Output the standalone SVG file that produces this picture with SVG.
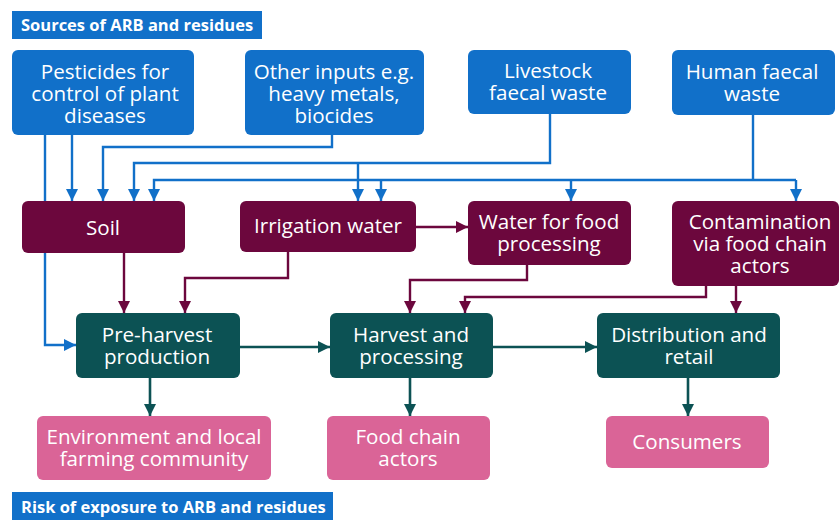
<svg xmlns="http://www.w3.org/2000/svg" width="839" height="520" viewBox="0 0 839 520">
<style>
.hdr{fill:#1170c9}
.src{fill:#1170c9}
.mid{fill:#6c073d}
.stg{fill:#0c5254}
.risk{fill:#da6497}
text{font-family:"Open Sans","Noto Sans","Liberation Sans",sans-serif;fill:#fff;text-anchor:middle}
.t{font-size:20.6px}
.h{font-size:16.5px;font-weight:bold;text-anchor:start}
.cb{fill:none;stroke:#1170c9;stroke-width:2.4;marker-end:url(#ab)}
.cm{fill:none;stroke:#6c073d;stroke-width:2.4;marker-end:url(#am)}
.ct{fill:none;stroke:#0c5254;stroke-width:2.6;marker-end:url(#at)}
.ln{fill:none;stroke:#1170c9;stroke-width:2.4}
</style>
<defs>
<marker id="ab" viewBox="0 0 10 10" refX="10" refY="5" markerWidth="12" markerHeight="12" markerUnits="userSpaceOnUse" orient="auto"><path d="M0,0 L10,5 L0,10 z" fill="#1170c9"/></marker>
<marker id="am" viewBox="0 0 10 10" refX="10" refY="5" markerWidth="12" markerHeight="12" markerUnits="userSpaceOnUse" orient="auto"><path d="M0,0 L10,5 L0,10 z" fill="#6c073d"/></marker>
<marker id="at" viewBox="0 0 10 10" refX="10" refY="5" markerWidth="12" markerHeight="12" markerUnits="userSpaceOnUse" orient="auto"><path d="M0,0 L10,5 L0,10 z" fill="#0c5254"/></marker>
</defs>
<rect width="839" height="520" fill="#fff"/>

<g id="header-sources">
<rect class="hdr" x="12" y="11" width="250" height="28"/>
<text class="h" x="21" y="31">Sources of ARB and residues</text>
</g>
<g id="header-risk">
<rect class="hdr" x="12" y="492" width="321" height="28"/>
<text class="h" x="21" y="513">Risk of exposure to ARB and residues</text>
</g>

<g id="connectors">
<path class="cb" d="M45,135 V345 H76"/>
<path class="cb" d="M72,135 V201"/>
<path class="cb" d="M332,135 V147 H103 V201"/>
<path class="cb" d="M550,114 V163 H134 V201"/>
<path class="cb" d="M358,163 V201"/>
<path class="ln" d="M753,115 V180"/>
<path class="cb" d="M796,180 H154 V201"/>
<path class="cb" d="M796,180 V201"/>
<path class="cb" d="M381,180 V201"/>
<path class="cb" d="M571,180 V201"/>
<path class="cm" d="M416,227 H468"/>
<path class="cm" d="M124,253 V313"/>
<path class="cm" d="M288,252 V278 H185 V313"/>
<path class="cm" d="M527,265 V280 H410 V313"/>
<path class="cm" d="M706,286 V297 H465 V313"/>
<path class="cm" d="M736,286 V313"/>
<path class="ct" d="M240,347 H330"/>
<path class="ct" d="M493,347 H597"/>
<path class="ct" d="M150,378 V416"/>
<path class="ct" d="M410,378 V416"/>
<path class="ct" d="M688,378 V416"/>
</g>

<g id="pesticides">
<rect class="src" x="12" y="50" width="182" height="85" rx="6"/>
<text class="t" x="105" y="79">Pesticides for</text>
<text class="t" x="105" y="101">control of plant</text>
<text class="t" x="105" y="123">diseases</text>
</g>
<g id="other-inputs">
<rect class="src" x="245" y="50" width="179" height="85" rx="6"/>
<text class="t" x="334" y="79">Other inputs e.g.</text>
<text class="t" x="334" y="101">heavy metals,</text>
<text class="t" x="334" y="123">biocides</text>
</g>
<g id="livestock">
<rect class="src" x="468" y="50" width="163" height="64" rx="6"/>
<text class="t" x="548" y="78">Livestock</text>
<text class="t" x="548" y="100">faecal waste</text>
</g>
<g id="human">
<rect class="src" x="672" y="50" width="163" height="65" rx="6"/>
<text class="t" x="752" y="79">Human faecal</text>
<text class="t" x="752" y="101">waste</text>
</g>

<g id="soil">
<rect class="mid" x="22" y="201" width="163" height="52" rx="6"/>
<text class="t" x="103" y="235">Soil</text>
</g>
<g id="irrigation">
<rect class="mid" x="240" y="201" width="176" height="51" rx="6"/>
<text class="t" x="328" y="233">Irrigation water</text>
</g>
<g id="water-processing">
<rect class="mid" x="468" y="201" width="163" height="64" rx="6"/>
<text class="t" x="549" y="229">Water for food</text>
<text class="t" x="549" y="251">processing</text>
</g>
<g id="contamination">
<rect class="mid" x="672" y="201" width="167" height="85" rx="6"/>
<text class="t" x="760" y="229">Contamination</text>
<text class="t" x="760" y="251">via food chain</text>
<text class="t" x="760" y="273">actors</text>
</g>

<g id="pre-harvest">
<rect class="stg" x="76" y="313" width="164" height="65" rx="6"/>
<text class="t" x="157" y="342">Pre-harvest</text>
<text class="t" x="157" y="364">production</text>
</g>
<g id="harvest">
<rect class="stg" x="330" y="313" width="163" height="65" rx="6"/>
<text class="t" x="411" y="342">Harvest and</text>
<text class="t" x="411" y="364">processing</text>
</g>
<g id="distribution">
<rect class="stg" x="597" y="313" width="183" height="65" rx="6"/>
<text class="t" x="689" y="342">Distribution and</text>
<text class="t" x="689" y="364">retail</text>
</g>

<g id="environment">
<rect class="risk" x="37" y="416" width="234" height="64" rx="6"/>
<text class="t" x="154" y="444">Environment and local</text>
<text class="t" x="154" y="466">farming community</text>
</g>
<g id="food-chain-actors">
<rect class="risk" x="327" y="416" width="163" height="64" rx="6"/>
<text class="t" x="408" y="444">Food chain</text>
<text class="t" x="408" y="466">actors</text>
</g>
<g id="consumers">
<rect class="risk" x="606" y="416" width="163" height="52" rx="6"/>
<text class="t" x="687" y="449">Consumers</text>
</g>
</svg>
